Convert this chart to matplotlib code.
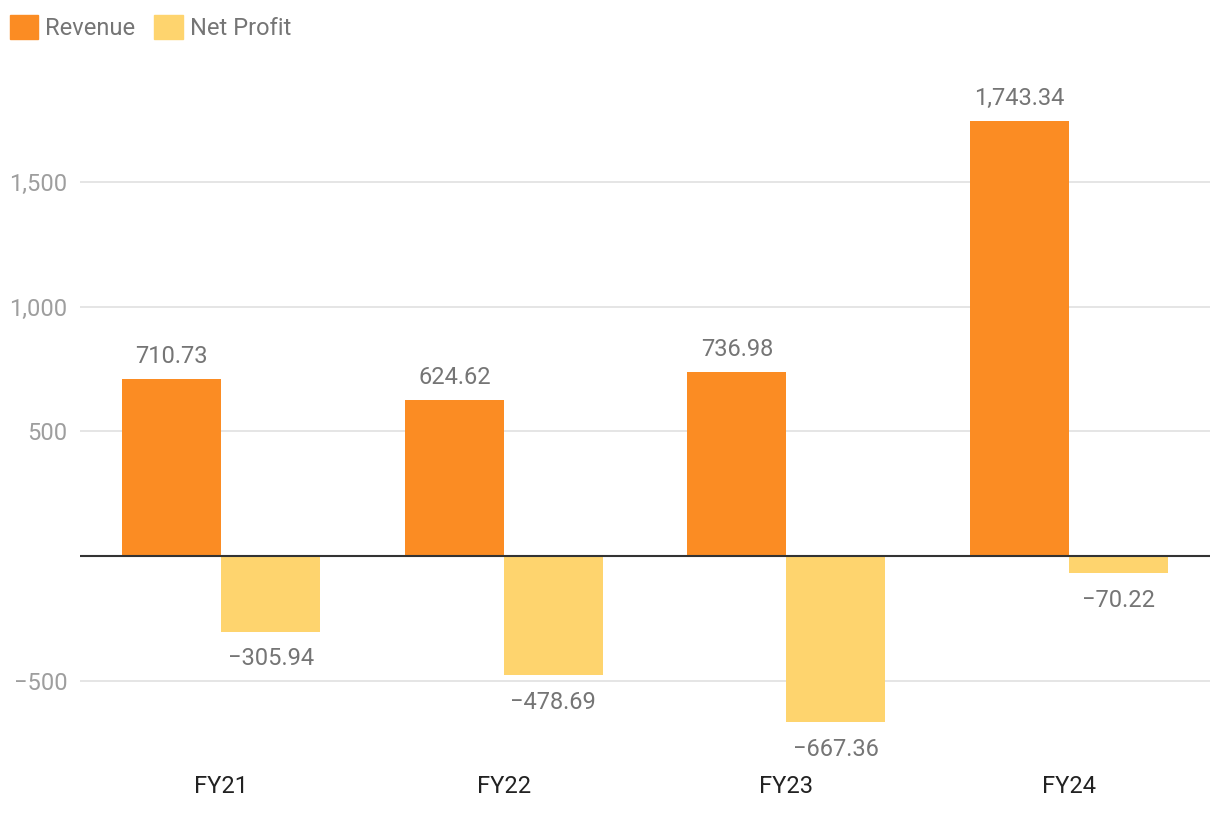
import numpy as np
import matplotlib
matplotlib.use("Agg")
import matplotlib.pyplot as plt
from matplotlib.patches import Patch

categories = ["FY21", "FY22", "FY23", "FY24"]
revenue = [710.73, 624.62, 736.98, 1743.34]
net_profit = [-305.94, -478.69, -667.36, -70.22]
series_names = ["Revenue", "Net Profit"]
yticks = [-500, 500, 1000, 1500]

REV_COLOR = "#fb8c23"
NP_COLOR = "#fed46e"

plt.rcParams["font.family"] = ["Roboto", "DejaVu Sans"]


def fmt(v):
    s = f"{abs(v):,.2f}"
    return ("\u2212" + s) if v < 0 else s


fig = plt.figure(figsize=(12.2, 8.16), dpi=100)
ax = fig.add_axes([80 / 1220, 0.0743, 1130 / 1220, 0.8554])

x = np.arange(len(categories))
w = 0.35
b1 = ax.bar(x - w / 2, revenue, w, color=REV_COLOR, zorder=2)
b2 = ax.bar(x + w / 2, net_profit, w, color=NP_COLOR, zorder=2)

for bars, vals in ((b1, revenue), (b2, net_profit)):
    for rect, v in zip(bars, vals):
        cx = rect.get_x() + rect.get_width() / 2
        if v >= 0:
            ax.annotate(fmt(v), (cx, v), xytext=(0, 8), textcoords="offset points",
                        ha="center", va="bottom", fontsize=17, color="#757575")
        else:
            ax.annotate(fmt(v), (cx, v), xytext=(0, -11), textcoords="offset points",
                        ha="center", va="top", fontsize=17, color="#757575")

ax.axhline(0, color="#333333", lw=1.5, zorder=3)
ax.set_xlim(-0.5, len(categories) - 0.5)
ax.set_ylim(-800, 2000)
ax.set_yticks(yticks)
ax.set_yticklabels([fmt(t).replace(".00", "") for t in yticks])
ax.set_xticks(x)
ax.set_xticklabels(categories)
ax.grid(axis="y", color="#e0e0e0", lw=1.2, zorder=0)
ax.tick_params(axis="y", length=0, pad=9, labelsize=17, labelcolor="#9e9e9e")
ax.tick_params(axis="x", length=0, pad=14, labelsize=17, labelcolor="#222222")
for s in ax.spines.values():
    s.set_visible(False)

handles = [Patch(color=REV_COLOR), Patch(color=NP_COLOR)]
fig.legend(handles, series_names, loc="upper left",
           bbox_to_anchor=(10 / 1220, 1 - 15 / 816), frameon=False, ncol=2,
           fontsize=17, labelcolor="#757575", handlelength=1.2, handleheight=1.2,
           handletextpad=0.3, columnspacing=0.8, borderpad=0, borderaxespad=0)

fig.savefig("out.png", dpi=100)
